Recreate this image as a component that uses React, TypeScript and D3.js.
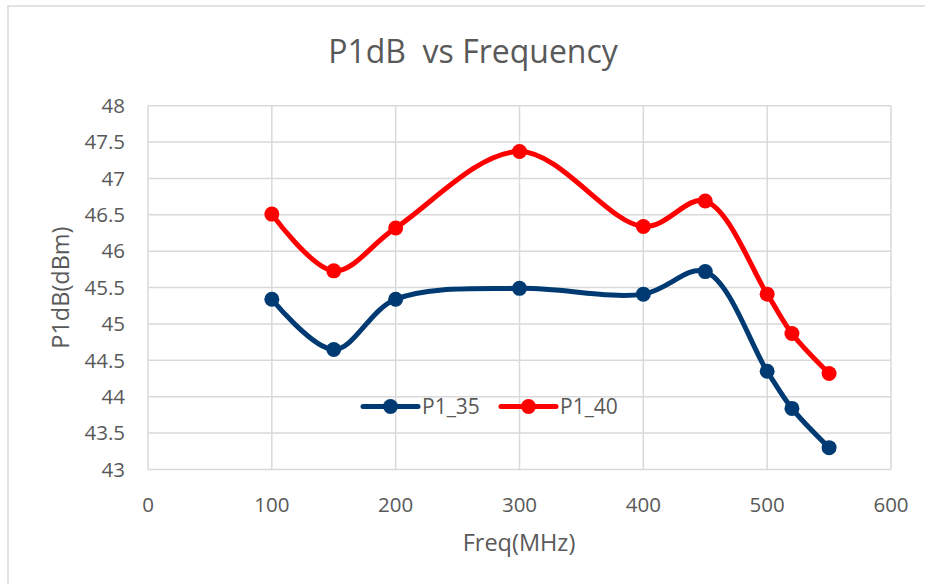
import React from "react";
import * as d3 from "d3";

const freqs = [100, 150, 200, 300, 400, 450, 500, 520, 550];
const p1_35 = [45.34, 44.65, 45.34, 45.49, 45.41, 45.72, 44.35, 43.84, 43.3];
const p1_40 = [46.51, 45.73, 46.32, 47.37, 46.34, 46.69, 45.41, 44.87, 44.32];
const xTicks = [0, 100, 200, 300, 400, 500, 600];
const yTicks = [43, 43.5, 44, 44.5, 45, 45.5, 46, 46.5, 47, 47.5, 48];
const seriesNames = ["P1_35", "P1_40"];
const seriesColors = ["#003A73", "#FF0000"];

const W = 925;
const H = 584;
const FONT = "'Open Sans', 'Liberation Sans', sans-serif";
const TXT = "#595959";

export default function App() {
  const x = d3.scaleLinear().domain([0, 600]).range([148, 891]);
  const y = d3.scaleLinear().domain([43, 48]).range([469.5, 105.7]);
  const line = d3
    .line<number>()
    .x((_, i) => x(freqs[i]))
    .y((d) => y(d))
    .curve(d3.curveCatmullRom.alpha(0.5));
  const series = [p1_35, p1_40];

  return (
    <svg
      width={W}
      height={H}
      style={{ position: "absolute", left: 0, top: 0, background: "#fff" }}
      fontFamily={FONT}
    >
      <rect x={0} y={0} width={W} height={H} fill="#fff" />
      <rect x={8} y={6} width={W} height={H} fill="none" stroke="#d9d9d9" strokeWidth={1.5} />
      <text
        x={473}
        y={63}
        textAnchor="middle"
        fontSize={32}
        fill={TXT}
        style={{ whiteSpace: "pre" }}
      >
        {"P1dB  vs Frequency"}
      </text>
      {yTicks.map((t) => (
        <line key={"gy" + t} x1={x(0)} x2={x(600)} y1={y(t)} y2={y(t)} stroke="#d9d9d9" strokeWidth={1.5} />
      ))}
      {xTicks.map((t) => (
        <line key={"gx" + t} x1={x(t)} x2={x(t)} y1={y(43)} y2={y(48)} stroke="#d9d9d9" strokeWidth={1.5} />
      ))}
      {yTicks.map((t) => (
        <text key={"ty" + t} x={125} y={y(t)} dy="0.35em" textAnchor="end" fontSize={20.5} fill={TXT}>
          {String(t)}
        </text>
      ))}
      {xTicks.map((t) => (
        <text key={"tx" + t} x={x(t)} y={505} dy="0.35em" textAnchor="middle" fontSize={20.5} fill={TXT}>
          {String(t)}
        </text>
      ))}
      <text x={519} y={543} dy="0.35em" textAnchor="middle" fontSize={23.5} fill={TXT}>
        Freq(MHz)
      </text>
      <text
        transform={`translate(61,${(y(43) + y(48)) / 2}) rotate(-90)`}
        dy="0.35em"
        textAnchor="middle"
        fontSize={23.5}
        fill={TXT}
      >
        P1dB(dBm)
      </text>
      {series.map((s, k) => (
        <g key={"s" + k}>
          <path d={line(s) || ""} fill="none" stroke={seriesColors[k]} strokeWidth={5} strokeLinejoin="round" />
          {s.map((v, i) => (
            <circle key={i} cx={x(freqs[i])} cy={y(v)} r={7.5} fill={seriesColors[k]} />
          ))}
        </g>
      ))}
      {seriesNames.map((n, k) => {
        const x0 = k === 0 ? 363 : 501;
        return (
          <g key={"l" + k}>
            <line x1={x0} x2={x0 + 55} y1={406.5} y2={406.5} stroke={seriesColors[k]} strokeWidth={5} strokeLinecap="round" />
            <circle cx={x0 + 27.5} cy={406.5} r={7.5} fill={seriesColors[k]} />
            <text x={x0 + 59} y={406.5} dy="0.35em" fontSize={21} fill={TXT}>
              {n}
            </text>
          </g>
        );
      })}
    </svg>
  );
}
